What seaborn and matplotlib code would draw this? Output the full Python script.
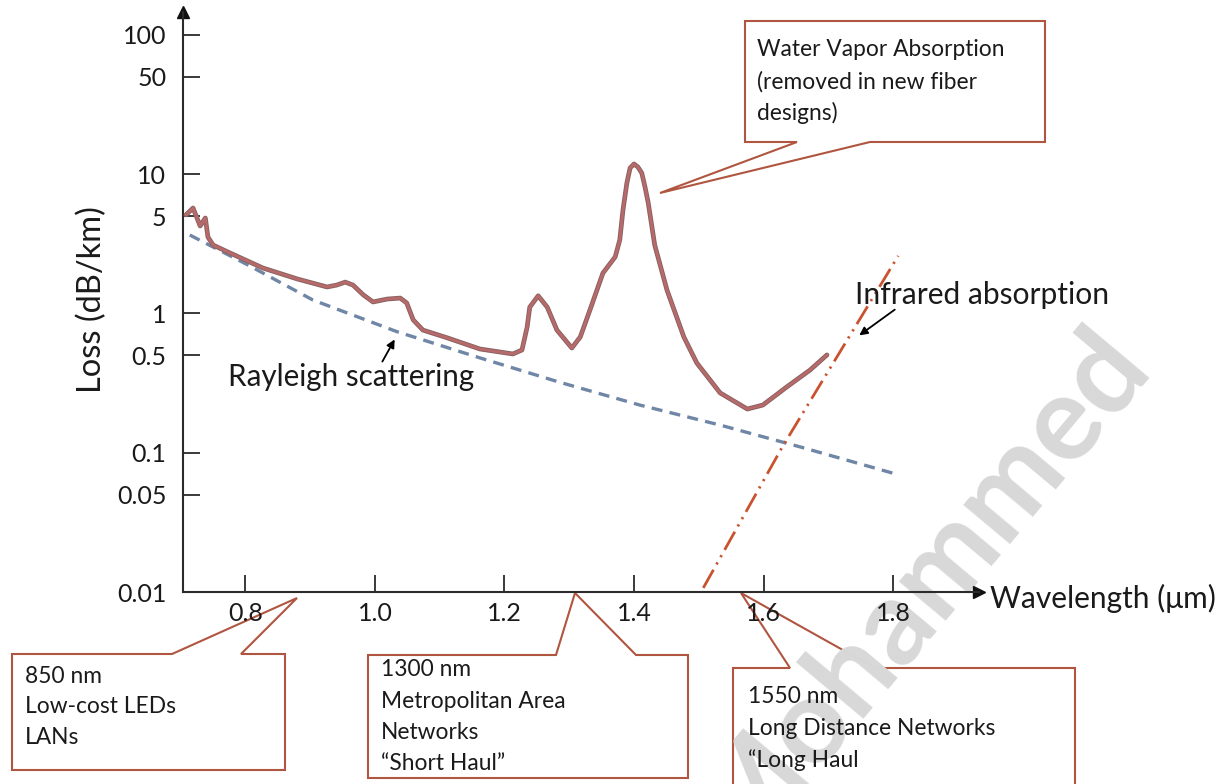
import matplotlib
matplotlib.use("Agg")
import matplotlib.pyplot as plt
import matplotlib.patheffects as pe
from matplotlib.patches import Polygon
from matplotlib.transforms import Affine2D
from matplotlib.ticker import FixedLocator, FixedFormatter, NullLocator
import seaborn as sns

# fiber loss curve (wavelength in um, loss in dB/km)
loss_wl = [0.708, 0.719, 0.730, 0.738, 0.742, 0.750, 0.776, 0.827, 0.880, 0.926,
           0.941, 0.954, 0.966, 0.982, 0.997, 1.019, 1.039, 1.049, 1.059, 1.074,
           1.111, 1.162, 1.213, 1.227, 1.235, 1.239, 1.252, 1.266, 1.281, 1.304,
           1.317, 1.332, 1.352, 1.371, 1.378, 1.383, 1.389, 1.394, 1.400, 1.406,
           1.412, 1.417, 1.422, 1.432, 1.451, 1.477, 1.497, 1.533, 1.575, 1.599,
           1.636, 1.672, 1.698]
loss_db = [5.10, 5.72, 4.25, 4.85, 3.54, 3.10, 2.72, 2.12, 1.77, 1.55,
           1.60, 1.68, 1.60, 1.36, 1.21, 1.27, 1.29, 1.19, 0.90, 0.76,
           0.67, 0.556, 0.512, 0.547, 0.80, 1.11, 1.34, 1.11, 0.76, 0.565,
           0.678, 1.06, 1.95, 2.55, 3.37, 5.54, 8.65, 11.09, 11.85, 11.27,
           10.2, 8.10, 6.22, 3.10, 1.47, 0.678, 0.441, 0.269, 0.206, 0.220,
           0.297, 0.393, 0.504]

# Rayleigh scattering limit
rayleigh_wl = [0.714, 0.807, 0.904, 1.034, 1.162, 1.286, 1.409, 1.533, 1.657, 1.806]
rayleigh_db = [3.66, 2.19, 1.25, 0.74, 0.48, 0.32, 0.22, 0.158, 0.110, 0.070]

# infrared absorption edge
infrared_wl = [1.507, 1.630, 1.808]
infrared_db = [0.0107, 0.112, 2.59]

y_ticks = [100, 50, 10, 5, 1, 0.5, 0.1, 0.05, 0.01]
y_tick_labels = ["100", "50", "10", "5", "1", "0.5", "0.1", "0.05", "0.01"]
x_ticks = [0.8, 1.0, 1.2, 1.4, 1.6, 1.8]
x_tick_labels = ["0.8", "1.0", "1.2", "1.4", "1.6", "1.8"]

W, H = 1229, 784
sns.set_theme(style="white")
plt.rcParams["font.family"] = ["Lato", "DejaVu Sans"]

fig = plt.figure(figsize=(W / 100, H / 100), dpi=100)
fig.patch.set_facecolor("white")
ax = fig.add_axes([183 / W, (H - 592) / H, (979 - 183) / W, (592 - 12) / H])
ax.set_facecolor("none")
ax.set_zorder(2)

# pixel coords (from top-left) for the decorations
pix = Affine2D().scale(1 / W, -1 / H).translate(0, 1) + fig.transFigure

sns.lineplot(x=loss_wl, y=loss_db, sort=False, estimator=None, ax=ax,
             color="#b86a6a", linewidth=2.0, zorder=4, solid_joinstyle="round",
             path_effects=[pe.Stroke(linewidth=3.4, foreground="#8a6262"), pe.Normal()])
sns.lineplot(x=rayleigh_wl, y=rayleigh_db, sort=False, estimator=None, ax=ax,
             color="#6f86a6", linewidth=2.4, zorder=3)
ax.lines[-1].set_dashes((3.3, 2.2))
sns.lineplot(x=infrared_wl, y=infrared_db, sort=False, estimator=None, ax=ax,
             color="#c9532f", linewidth=2.0, zorder=3)
ax.lines[-1].set_dashes((7.5, 2.2, 0.8, 2.2, 0.8, 2.2))

ax.set_yscale("log")
ax.set_ylim(0.01, 146.2)
ax.set_xlim(0.7035, 1.9328)
ax.yaxis.set_major_locator(FixedLocator(y_ticks))
ax.yaxis.set_major_formatter(FixedFormatter(y_tick_labels))
ax.yaxis.set_minor_locator(NullLocator())
ax.xaxis.set_major_locator(FixedLocator(x_ticks))
ax.xaxis.set_major_formatter(FixedFormatter(x_tick_labels))
ax.tick_params(axis="both", direction="in", length=12, width=1.3, color="#2b2b2b",
               labelsize=18, labelcolor="#1a1a1a", left=True, bottom=True)
ax.tick_params(axis="y", pad=12)
ax.tick_params(axis="x", pad=7)
ax.set_xlabel("")
ax.set_ylabel("")
for side in ["top", "right"]:
    ax.spines[side].set_visible(False)
for side in ["left", "bottom"]:
    ax.spines[side].set_linewidth(1.5)
    ax.spines[side].set_color("#2b2b2b")
ax.plot(1, 0, ">", ms=8, color="#111111", transform=ax.transAxes, clip_on=False)
ax.plot(0, 1, "^", ms=8, color="#111111", transform=ax.transAxes, clip_on=False)

fig.text(92, 300, "Loss (dB/km)", transform=pix, rotation=90, fontsize=23.5,
         ha="center", va="center", color="#1a1a1a", zorder=3)
fig.text(990, 598, "Wavelength (\u03bcm)", transform=pix, fontsize=21.5,
         ha="left", va="center", color="#1a1a1a", zorder=3)

# curve labels with arrows
fig.text(228, 377, "Rayleigh scattering", transform=pix, fontsize=21.3,
         ha="left", va="center", color="#1a1a1a", zorder=3)
ax.annotate("", xy=(396, 337), xycoords=pix, xytext=(381, 364), textcoords=pix,
            arrowprops=dict(arrowstyle="-|>", color="black", lw=1.3, mutation_scale=12))
fig.text(855, 295, "Infrared absorption", transform=pix, fontsize=21.6,
         ha="left", va="center", color="#1a1a1a", zorder=3)
ax.annotate("", xy=(857, 337), xycoords=pix, xytext=(897, 308), textcoords=pix,
            arrowprops=dict(arrowstyle="-|>", color="black", lw=1.3, mutation_scale=12))

# speech-bubble callouts
edge = "#b0553f"


def callout(box, base, tip, lines, text_x, line_ys, top=True):
    l, t, r, b = box
    if top:
        verts = [(l, t), (base[0], t), tip, (base[1], t), (r, t), (r, b), (l, b)]
    else:
        verts = [(l, t), (r, t), (r, b), (base[1], b), tip, (base[0], b), (l, b)]
    poly = Polygon(verts, closed=True, transform=pix, facecolor="white",
                   edgecolor=edge, linewidth=1.5, zorder=1)
    fig.patches.append(poly)
    for txt, yy in zip(lines, line_ys):
        fig.text(text_x, yy, txt, transform=pix, fontsize=16.4, ha="left",
                 va="center", color="#1a1a1a", zorder=3)


callout((745, 21, 1045, 142), (797, 870), (660, 193),
        ["Water Vapor Absorption", "(removed in new fiber", "designs)"],
        757, [50, 82, 113], top=False)
callout((12, 654, 285, 770), (172, 241), (297, 598),
        ["850 nm", "Low-cost LEDs", "LANs"], 25, [677, 707, 738])
callout((368, 655, 688, 778), (556, 636), (575, 593),
        ["1300 nm", "Metropolitan Area", "Networks", "\u201cShort Haul\u201d"],
        381, [670, 702, 733, 764])
callout((733, 668, 1075, 800), (790, 875), (741, 593),
        ["1550 nm", "Long Distance Networks", "\u201cLong Haul"],
        748, [697, 729, 760])

# watermark, above the box fills but below the chart and texts
fig.text(920, 588, "Mohammed", transform=pix, fontsize=86, fontweight="bold",
         rotation=50, ha="center", va="center", color="#d8d8d8",
         zorder=1.5)

fig.savefig("out.png", dpi=100)
